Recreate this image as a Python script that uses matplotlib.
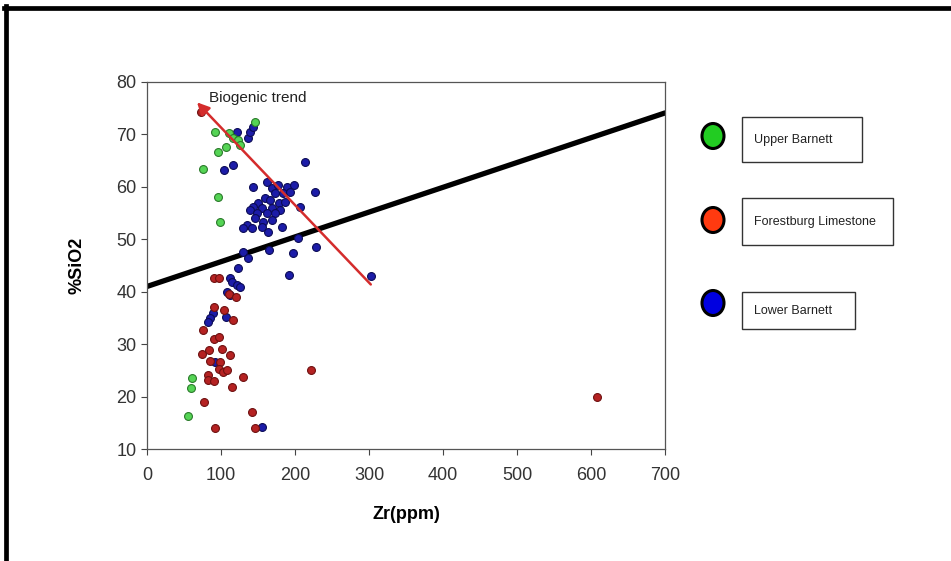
import matplotlib
matplotlib.use('Agg')
import matplotlib.pyplot as plt
from matplotlib.lines import Line2D
from matplotlib.patches import Ellipse, Rectangle

# Upper Barnett
upper_zr = [92, 111, 116, 123, 126, 107, 96, 76, 96, 99, 146, 61, 59, 55]
upper_si = [70.5, 70.3, 69.3, 69.0, 68.0, 67.6, 66.6, 63.5, 58.1, 53.3, 72.4, 23.5, 21.6, 16.3]

# Forestburg Limestone
forest_zr = [73, 90, 97, 111, 120, 90, 104, 116, 76, 90, 97, 74, 84, 101, 112, 85, 99, 97, 103, 108,
             82, 83, 90, 130, 115, 77, 142, 92, 146, 222, 608]
forest_si = [74.2, 42.7, 42.7, 39.6, 39.0, 37.0, 36.5, 34.6, 32.7, 31.0, 31.4, 28.2, 28.9, 29.1, 27.9, 26.8,
             26.6, 25.2, 24.7, 25.1, 24.1, 23.2, 23.0, 23.8, 21.8, 19.0, 17.1, 14.0, 14.0, 25.1, 19.9]

# Lower Barnett
lower_zr = [121, 137, 139, 143, 116, 104, 214,
            143, 162, 169, 177, 189, 198, 173, 184, 193, 159, 166, 178, 186, 150, 143, 155, 169, 180,
            139, 149, 162, 173, 146, 157, 169, 135, 142, 155, 163, 130, 182, 207, 227,
            204, 228, 197, 165, 130, 137, 123, 192, 112, 303, 115, 121, 126, 108, 112, 89, 85, 82,
            107, 92, 155]
lower_si = [70.5, 69.3, 70.5, 71.4, 64.2, 63.2, 64.7,
            60.0, 61.0, 59.8, 60.4, 60.0, 60.4, 58.8, 58.8, 59.0, 57.9, 57.5, 56.9, 57.1, 56.9, 56.2, 56.0, 56.0, 55.6,
            55.6, 55.0, 55.0, 55.0, 54.1, 53.3, 53.7, 52.7, 52.1, 52.3, 51.4, 52.1, 52.3, 56.2, 59.0,
            50.2, 48.5, 47.4, 48.0, 47.6, 46.4, 44.5, 43.2, 42.6, 43.0, 41.9, 41.3, 40.9, 40.0, 39.4, 35.9, 35.0, 34.2,
            35.2, 26.6, 14.2]

trend_zr = [0, 700]
trend_si = [41.0, 74.1]

arrow_tail = (305, 41.0)
arrow_head = (65, 76.5)

legend_labels = ['Upper Barnett', 'Forestburg Limestone', 'Lower Barnett']

W, H = 951, 561
plt.rcParams['font.family'] = ['Liberation Sans', 'DejaVu Sans']

fig = plt.figure(figsize=(W / 100, H / 100), dpi=100)
ax = fig.add_axes([147 / W, 1 - 449 / H, 518 / W, 367 / H])

ax.plot(trend_zr, trend_si, color='black', lw=3.8, solid_capstyle='round', zorder=2)

ax.scatter(lower_zr, lower_si, s=32, c='#1c1ca8', edgecolors='#0b0b55', linewidths=0.8, zorder=3)
ax.scatter(forest_zr, forest_si, s=32, c='#b52222', edgecolors='#6e1010', linewidths=0.8, zorder=3)
ax.scatter(upper_zr, upper_si, s=32, c='#55d455', edgecolors='#2a7a2a', linewidths=0.8, zorder=3)

ax.annotate('', xy=arrow_head, xytext=arrow_tail,
            arrowprops=dict(arrowstyle='-|>', color='#d42c2c', lw=1.8, mutation_scale=18), zorder=4)
ax.text(84, 77.0, 'Biogenic trend', fontsize=11, color='#222222', va='center', ha='left')

ax.set_xlim(0, 700)
ax.set_ylim(10, 80)
ax.set_xticks(range(0, 701, 100))
ax.set_yticks(range(10, 81, 10))
ax.tick_params(direction='out', length=4, width=0.8, color='#444444', labelsize=13, labelcolor='#333333')
ax.tick_params(axis='x', pad=9)
for sp in ax.spines.values():
    sp.set_color('#555555')
    sp.set_linewidth(0.9)

ax.set_xlabel('Zr(ppm)', fontsize=13, fontweight='bold', labelpad=16)
ax.set_ylabel('%SiO2', fontsize=13, fontweight='bold', labelpad=22)

# custom legend: circles plus boxed labels
def fx(x):
    return x / W

def fy(y):
    return 1 - y / H

circle_colors = ['#22cc22', '#ff3a10', '#0000e0']
circle_y = [136, 220, 303]
boxes = [(742, 117, 862, 162), (742, 198, 893, 245), (742, 292, 855, 329)]
for lab, col, cy, (x0, y0, x1, y1) in zip(legend_labels, circle_colors, circle_y, boxes):
    fig.add_artist(Ellipse((fx(713), fy(cy)), 22 / W, 25 / H, facecolor=col, edgecolor='black',
                           lw=2.2, transform=fig.transFigure))
    fig.add_artist(Rectangle((fx(x0), fy(y1)), (x1 - x0) / W, (y1 - y0) / H, facecolor='white',
                             edgecolor='#333333', lw=1.0, transform=fig.transFigure))
    fig.text(fx(754), fy((y0 + y1) / 2 + 1), lab, fontsize=9, color='#222222', va='center', ha='left')

# outer border (top and left)
fig.add_artist(Line2D([fx(4), fx(W)], [fy(7.5), fy(7.5)], color='black', lw=3.4, transform=fig.transFigure))
fig.add_artist(Line2D([fx(5.5), fx(5.5)], [fy(6), fy(H)], color='black', lw=3.4, transform=fig.transFigure))

fig.savefig('out.png', dpi=100)
